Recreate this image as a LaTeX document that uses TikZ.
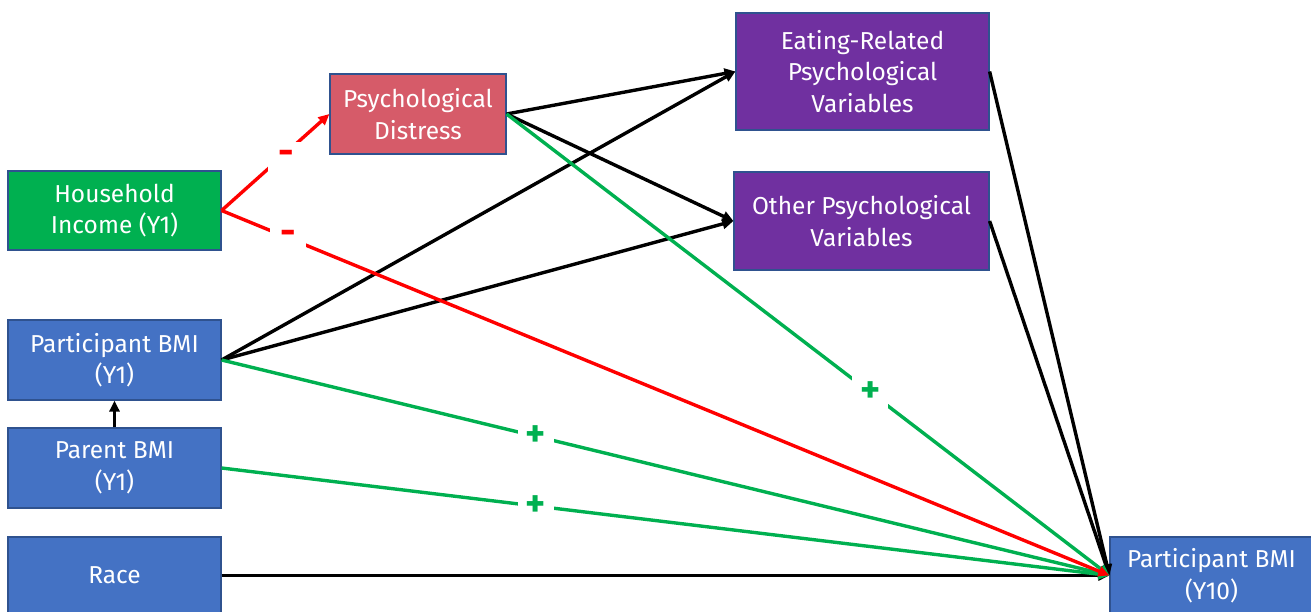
\documentclass[tikz,border=0pt]{standalone}
\usepackage{fontspec}
\setmainfont{Fira Sans}
\usetikzlibrary{arrows.meta}
\definecolor{bxborder}{HTML}{2F528F}
\definecolor{bxblue}{HTML}{4472C4}
\definecolor{bxgreen}{HTML}{00B050}
\definecolor{bxpink}{HTML}{D65B69}
\definecolor{bxpurple}{HTML}{7030A0}
\definecolor{lngreen}{HTML}{00B050}
\definecolor{lnred}{HTML}{FF0000}
\tikzset{
  x=1pt,y=-1pt,
  bx/.style={draw=bxborder,line width=1.2pt,text=white,align=center,
    font=\fontsize{24.5}{31.5}\selectfont,inner sep=0pt},
  arr/.style={line width=3.4pt,-{Triangle[length=11pt,width=10pt]}},
  sgn/.style={fill=white,inner sep=0pt,minimum width=36pt,minimum height=32pt,
    font=\bfseries\fontsize{38}{38}\selectfont},
}
\begin{document}
\begin{tikzpicture}
\useasboundingbox (0,0) rectangle (1311,612);
% boxes
\node[bx,fill=bxgreen,minimum width=213pt,minimum height=79pt] (hi) at (114.5,210.5) {Household\\Income (Y1)};
\node[bx,fill=bxpink,minimum width=176pt,minimum height=80pt] (pd) at (418,114) {Psychological\\Distress};
\node[bx,fill=bxpurple,minimum width=253pt,minimum height=117pt] (er) at (862.5,71.5) {Eating-Related\\Psychological\\Variables};
\node[bx,fill=bxpurple,minimum width=255pt,minimum height=98pt] (op) at (861.5,221) {Other Psychological\\Variables};
\node[bx,fill=bxblue,minimum width=213pt,minimum height=80pt] (pb) at (114.5,360) {Participant BMI\\(Y1)};
\node[bx,fill=bxblue,minimum width=213pt,minimum height=80pt] (parb) at (114.5,468) {Parent BMI\\(Y1)};
\node[bx,fill=bxblue,minimum width=213pt,minimum height=77pt] (race) at (114.5,575.5) {Race};
\node[bx,fill=bxblue,minimum width=203pt,minimum height=77pt] (y10) at (1211.5,575.5) {Participant BMI\\(Y10)};
% connectors
\draw[arr] (parb.north) -- (pb.south);
\draw[arr] (pd.east) -- (er.west);
\draw[arr] (pd.east) -- (op.west);
\draw[arr] (pb.east) -- (er.west);
\draw[arr] (pb.east) -- (op.west);
\draw[arr] (race.east) -- (y10.west);
\draw[arr] (er.east) -- (y10.west);
\draw[arr] (op.east) -- (y10.west);
\draw[arr,lngreen] (pd.east) -- node[sgn,pos=0.603,text=lngreen] {+} (y10.west);
\draw[arr,lngreen] (pb.east) -- node[sgn,pos=0.354,text=lngreen] {+} (y10.west);
\draw[arr,lngreen] (parb.east) -- node[sgn,pos=0.354,text=lngreen] {+} (y10.west);
\draw[arr,lnred] (hi.east) -- node[sgn,pos=0.075,text=lnred] {-} (y10.west);
\draw[arr,lnred] (hi.east) -- node[sgn,pos=0.6,yshift=-5pt,text=lnred] {-} (pd.west);
\end{tikzpicture}
\end{document}
